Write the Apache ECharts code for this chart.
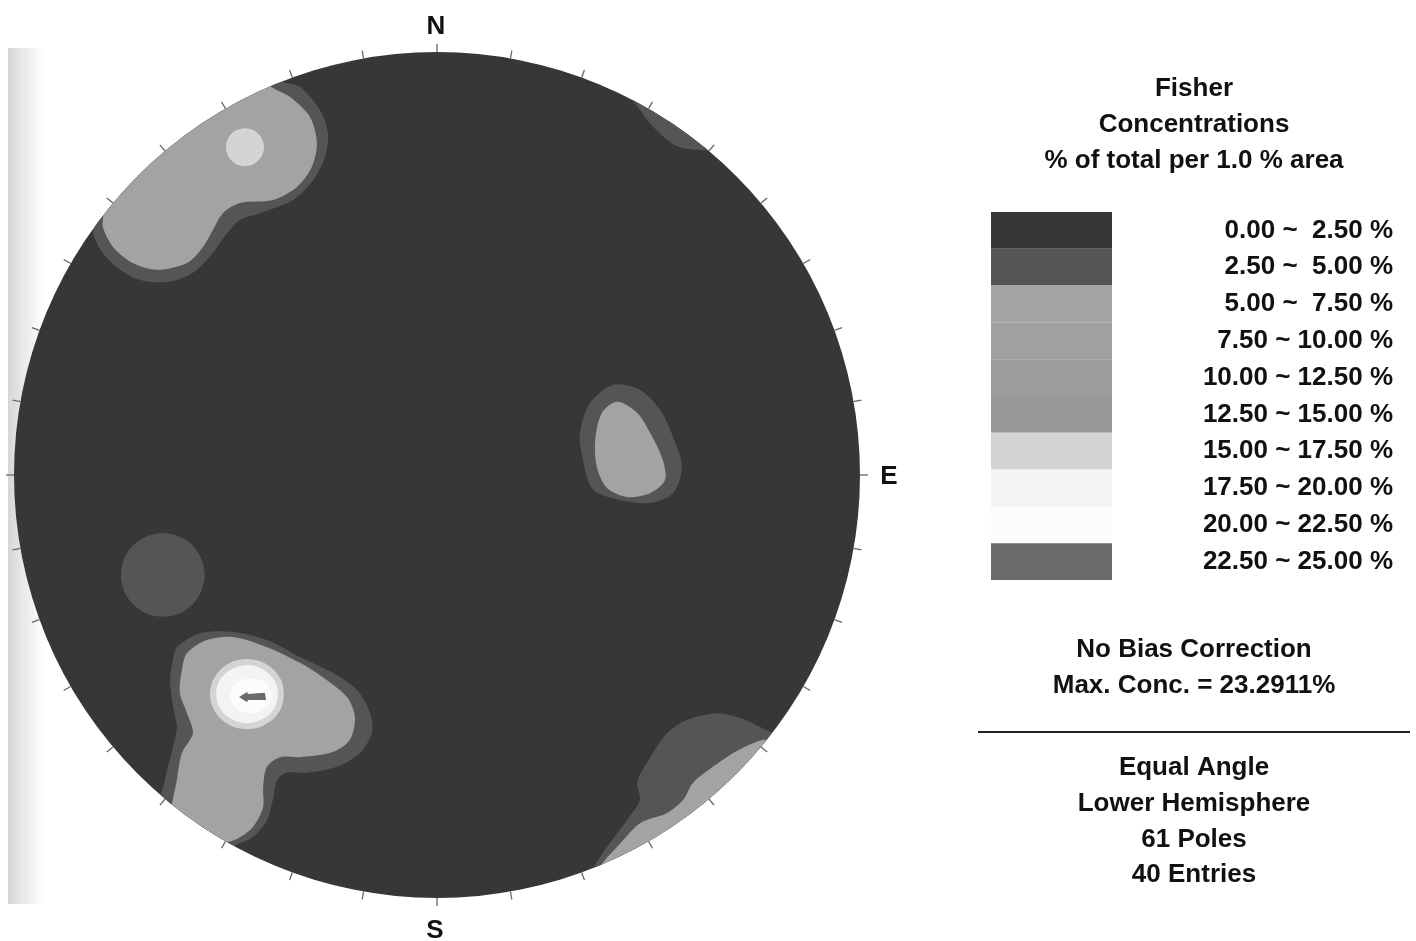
<!DOCTYPE html>
<html><head><meta charset="utf-8">
<script src="https://cdn.jsdelivr.net/npm/echarts@6/dist/echarts.min.js"></script>
<style>html,body{margin:0;padding:0;background:#fff}#c{width:1416px;height:941px}</style>
</head><body><div id="c"></div>
<script>
// ---- Legend: contour levels (% of total per 1.0 % area) ----
const levelLabels = ['0.00 ~  2.50 %', '2.50 ~  5.00 %', '5.00 ~  7.50 %', '7.50 ~ 10.00 %', '10.00 ~ 12.50 %',
  '12.50 ~ 15.00 %', '15.00 ~ 17.50 %', '17.50 ~ 20.00 %', '20.00 ~ 22.50 %', '22.50 ~ 25.00 %'];
const levelColors = ['#373737', '#555555', '#a3a3a3', '#a0a0a0', '#9c9c9c', '#989898', '#d4d4d4', '#f3f3f3', '#fcfcfc', '#6a6a6a'];

const titleLines = ['Fisher', 'Concentrations', '% of total per 1.0 % area'];
const infoLines1 = ['No Bias Correction', 'Max. Conc. = 23.2911%'];
const infoLines2 = ['Equal Angle', 'Lower Hemisphere', '61 Poles', '40 Entries'];
const directionLabels = ['N', 'E', 'S'];

// net perimeter ticks (azimuth, degrees)
const tickAzimuths = [0,10,20,30,40,50,60,70,80,90,100,110,120,130,140,150,160,170,180,190,200,210,220,230,240,250,260,270,280,290,300,310,320,330,340,350];

// ---- Contour polygons, net coordinates in % of net radius (x = east, y = north) ----
const nwBand = [[-38.8,93.9],[-32.4,91.7],[-27.7,86.3],[-25.8,80.9],[-26.5,75.2],[-29.3,69.7],[-34.0,65.0],[-41.8,61.9],[-46.6,60.3],[-49.6,57.2],[-53.0,52.5],[-57.7,47.8],[-63.8,45.6],[-70.2,46.1],[-74.9,48.5],[-79.0,52.5],[-81.3,57.2],[-80.4,61.0],[-89.1,65.0],[-79.7,81.6],[-60.8,95.7],[-41.8,100.5]];
const nwCore = [[-40.2,92.7],[-34.8,89.4],[-30.0,84.6],[-28.4,78.5],[-29.6,72.8],[-33.1,68.1],[-38.8,65.0],[-46.6,64.3],[-50.6,61.9],[-53.0,57.9],[-55.3,53.9],[-59.1,50.1],[-66.2,48.5],[-71.9,50.1],[-76.6,53.9],[-79.0,58.6],[-79.2,62.6],[-86.8,66.2],[-78.5,82.7],[-59.6,96.9],[-41.4,99.3]];
const nwPeak = [[-40.9,77.5],[-41.5,79.8],[-43.2,81.4],[-45.4,82.0],[-47.7,81.4],[-49.3,79.8],[-49.9,77.5],[-49.3,75.3],[-47.7,73.6],[-45.4,73.0],[-43.2,73.6],[-41.5,75.3]];
const neBand = [[45.2,91.0],[48.0,86.3],[51.1,82.3],[54.4,79.2],[57.4,77.5],[62.9,76.8],[65.0,77.3],[62.2,83.9],[50.4,92.2]];
const eBand = [[41.6,21.3],[48.0,20.1],[52.7,15.4],[55.8,9.0],[57.9,1.9],[55.8,-4.3],[50.4,-6.6],[43.3,-5.9],[36.9,-3.5],[34.5,3.5],[33.8,9.9],[36.2,17.0]];
const eCore = [[42.6,17.3],[47.3,14.7],[50.4,9.9],[53.4,3.5],[53.9,-1.2],[50.4,-4.3],[44.9,-5.2],[40.2,-3.1],[37.8,1.9],[37.4,8.3],[39.0,14.7]];
const swSpot = [[-54.9,-23.6],[-55.7,-19.8],[-57.8,-16.6],[-61.0,-14.5],[-64.8,-13.7],[-68.6,-14.5],[-71.8,-16.6],[-74.0,-19.8],[-74.7,-23.6],[-74.0,-27.4],[-71.8,-30.6],[-68.6,-32.8],[-64.8,-33.5],[-61.0,-32.8],[-57.8,-30.6],[-55.7,-27.4]];
const swBand = [[-61.5,-40.7],[-56.0,-37.4],[-48.2,-37.1],[-40.2,-39.0],[-32.4,-43.0],[-24.6,-46.8],[-18.9,-50.8],[-15.8,-56.3],[-15.4,-61.0],[-18.2,-65.7],[-23.6,-69.0],[-30.7,-70.4],[-35.5,-70.4],[-37.8,-72.1],[-38.8,-76.8],[-40.2,-81.6],[-43.5,-85.6],[-48.2,-87.9],[-52.5,-92.2],[-63.1,-83.9],[-69.0,-76.8],[-65.5,-75.7],[-63.8,-69.7],[-62.4,-64.3],[-61.5,-59.6],[-62.4,-54.8],[-63.1,-48.5],[-62.4,-43.7]];
const swCore = [[-59.1,-42.1],[-54.4,-39.0],[-48.2,-38.3],[-40.2,-40.7],[-32.4,-44.4],[-26.0,-48.5],[-21.3,-52.5],[-19.4,-57.2],[-20.6,-62.6],[-24.6,-65.5],[-32.4,-66.7],[-37.1,-66.7],[-40.2,-69.0],[-41.1,-73.8],[-41.1,-78.5],[-43.5,-83.2],[-47.8,-86.3],[-51.8,-87.0],[-58.4,-86.3],[-62.6,-80.4],[-61.5,-72.1],[-60.3,-65.7],[-57.7,-61.0],[-59.1,-56.3],[-60.8,-51.5],[-60.3,-46.1]];
const swRing = [[-36.2,-51.8],[-36.8,-48.6],[-38.7,-45.9],[-41.6,-44.1],[-44.9,-43.5],[-48.3,-44.1],[-51.1,-45.9],[-53.0,-48.6],[-53.7,-51.8],[-53.0,-55.0],[-51.1,-57.7],[-48.3,-59.5],[-44.9,-60.1],[-41.6,-59.5],[-38.7,-57.7],[-36.8,-55.0]];
const swWhite = [[-37.6,-51.8],[-38.1,-49.2],[-39.7,-47.0],[-42.1,-45.5],[-44.9,-44.9],[-47.7,-45.5],[-50.1,-47.0],[-51.7,-49.2],[-52.2,-51.8],[-51.7,-54.4],[-50.1,-56.7],[-47.7,-58.1],[-44.9,-58.7],[-42.1,-58.1],[-39.7,-56.7],[-38.1,-54.4]];
const swInner = [[-39.0,-52.2],[-40.5,-49.2],[-44.0,-48.0],[-47.5,-49.2],[-49.0,-52.2],[-47.5,-55.2],[-44.0,-56.4],[-40.5,-55.2]];
const swPeak = [[-46.8,-52.5],[-44.9,-51.3],[-44.7,-51.8],[-40.7,-51.5],[-40.4,-53.2],[-44.7,-53.2],[-44.9,-53.7]];
const seBand = [[36.9,-92.9],[40.2,-87.9],[44.9,-81.6],[48.0,-76.8],[47.3,-72.8],[49.6,-68.1],[54.4,-61.0],[59.1,-57.9],[66.2,-56.3],[71.6,-57.4],[76.4,-59.6],[79.4,-61.0],[83.5,-62.6],[66.9,-83.9],[43.3,-98.1],[35.0,-95.7]];
const seCore = [[38.5,-92.7],[42.6,-87.9],[48.0,-82.3],[54.4,-79.9],[58.2,-76.8],[60.5,-72.8],[65.2,-69.0],[70.0,-65.7],[74.7,-63.4],[77.5,-62.6],[82.3,-63.8],[65.7,-85.1],[44.4,-97.6],[38.1,-95.7]];

const contours = [
  {level:1, pts:nwBand}, {level:2, pts:nwCore}, {level:6, pts:nwPeak},
  {level:1, pts:neBand},
  {level:1, pts:eBand}, {level:2, pts:eCore},
  {level:1, pts:swSpot},
  {level:1, pts:swBand}, {level:2, pts:swCore}, {level:6, pts:swRing}, {level:7, pts:swWhite}, {level:8, pts:swInner}, {level:9, pts:swPeak, sharp:true},
  {level:1, pts:seBand}, {level:2, pts:seCore}
];

const FONT = '"Liberation Sans", Arial, Helvetica, sans-serif';
const chart = echarts.init(document.getElementById('c'), null, {renderer:'canvas'});

function netClip(api){
  const o = api.coord([0,0]);
  const r = api.size([100,0])[0];
  return {type:'circle', shape:{cx:o[0], cy:o[1], r:r}};
}

const textEls = [];
const CX = 1194;
const txtStyle = (t)=>({text:t, textAlign:'center', textVerticalAlign:'middle', font:'bold 26px '+FONT, fill:'#111'});
titleLines.forEach((t,i)=>textEls.push({type:'text', x:CX, y:89+i*36, z:10, style:txtStyle(t)}));
infoLines1.forEach((t,i)=>textEls.push({type:'text', x:CX, y:650+i*36, z:10, style:txtStyle(t)}));
infoLines2.forEach((t,i)=>textEls.push({type:'text', x:CX, y:768+i*35.7, z:10, style:txtStyle(t)}));
const dirPos = [[436,27],[889,477],[435,931]];
directionLabels.forEach((t,i)=>textEls.push({type:'text', x:dirPos[i][0], y:dirPos[i][1], z:10, style:txtStyle(t)}));
textEls.push({type:'line', z:10, shape:{x1:978, y1:732, x2:1410, y2:732}, style:{stroke:'#222', lineWidth:2}});
textEls.push({type:'rect', z:-5, shape:{x:8, y:48, width:36, height:856}, style:{fill:{type:'linear', x:0, y:0, x2:1, y2:0, colorStops:[{offset:0, color:'#d6d6d6'},{offset:0.35, color:'#e6e6e6'},{offset:1, color:'#ffffff'}]}}});

chart.setOption({
  animation:false,
  backgroundColor:'#ffffff',
  grid:[
    {left:14, top:52, width:846, height:846},
    {left:991, top:212, width:121, height:368}
  ],
  xAxis:[
    {type:'value', min:-100, max:100, show:false, gridIndex:0},
    {type:'value', min:0, max:1, show:false, gridIndex:1}
  ],
  yAxis:[
    {type:'value', min:-100, max:100, show:false, gridIndex:0},
    {type:'category', gridIndex:1, data:levelLabels, inverse:true, position:'right',
     axisLine:{show:false}, axisTick:{show:false}, splitLine:{show:false},
     axisLabel:{align:'right', margin:281, fontSize:26, fontWeight:'bold', fontFamily:FONT, color:'#111', padding:[5,0,0,0]}}
  ],
  graphic:{elements:textEls},
  series:[
    {type:'custom', name:'net', xAxisIndex:0, yAxisIndex:0, z:2, silent:true, clip:false,
     data:[[0,0]],
     renderItem:function(params, api){
       const o = api.coord([0,0]); const r = api.size([100,0])[0];
       return {type:'circle', shape:{cx:o[0], cy:o[1], r:r}, style:{fill:levelColors[0]}};
     }},
    {type:'custom', name:'contours', xAxisIndex:0, yAxisIndex:0, z:3, silent:true, clip:false,
     data:contours.map((c,i)=>[i, c.level]),
     renderItem:function(params, api){
       const c = contours[api.value(0)];
       return {type:'polygon', shape:{points:c.pts.map(p=>api.coord(p)), smooth:c.sharp ? 0 : 0.3},
               style:{fill:levelColors[c.level]}, clipPath:netClip(api)};
     }},
    {type:'custom', name:'ticks', xAxisIndex:0, yAxisIndex:0, z:4, silent:true, clip:false,
     data:tickAzimuths.map(a=>[a,0]),
     renderItem:function(params, api){
       const a = api.value(0)*Math.PI/180;
       const p1 = api.coord([100*Math.sin(a), 100*Math.cos(a)]);
       const p2 = api.coord([101.9*Math.sin(a), 101.9*Math.cos(a)]);
       return {type:'line', shape:{x1:p1[0], y1:p1[1], x2:p2[0], y2:p2[1]}, style:{stroke:'#666', lineWidth:1.3}};
     }},
    {type:'bar', name:'legend', xAxisIndex:1, yAxisIndex:1, barWidth:'100%', silent:true,
     data:levelColors.map(c=>({value:1, itemStyle:{color:c}}))}
  ]
});
</script></body></html>
